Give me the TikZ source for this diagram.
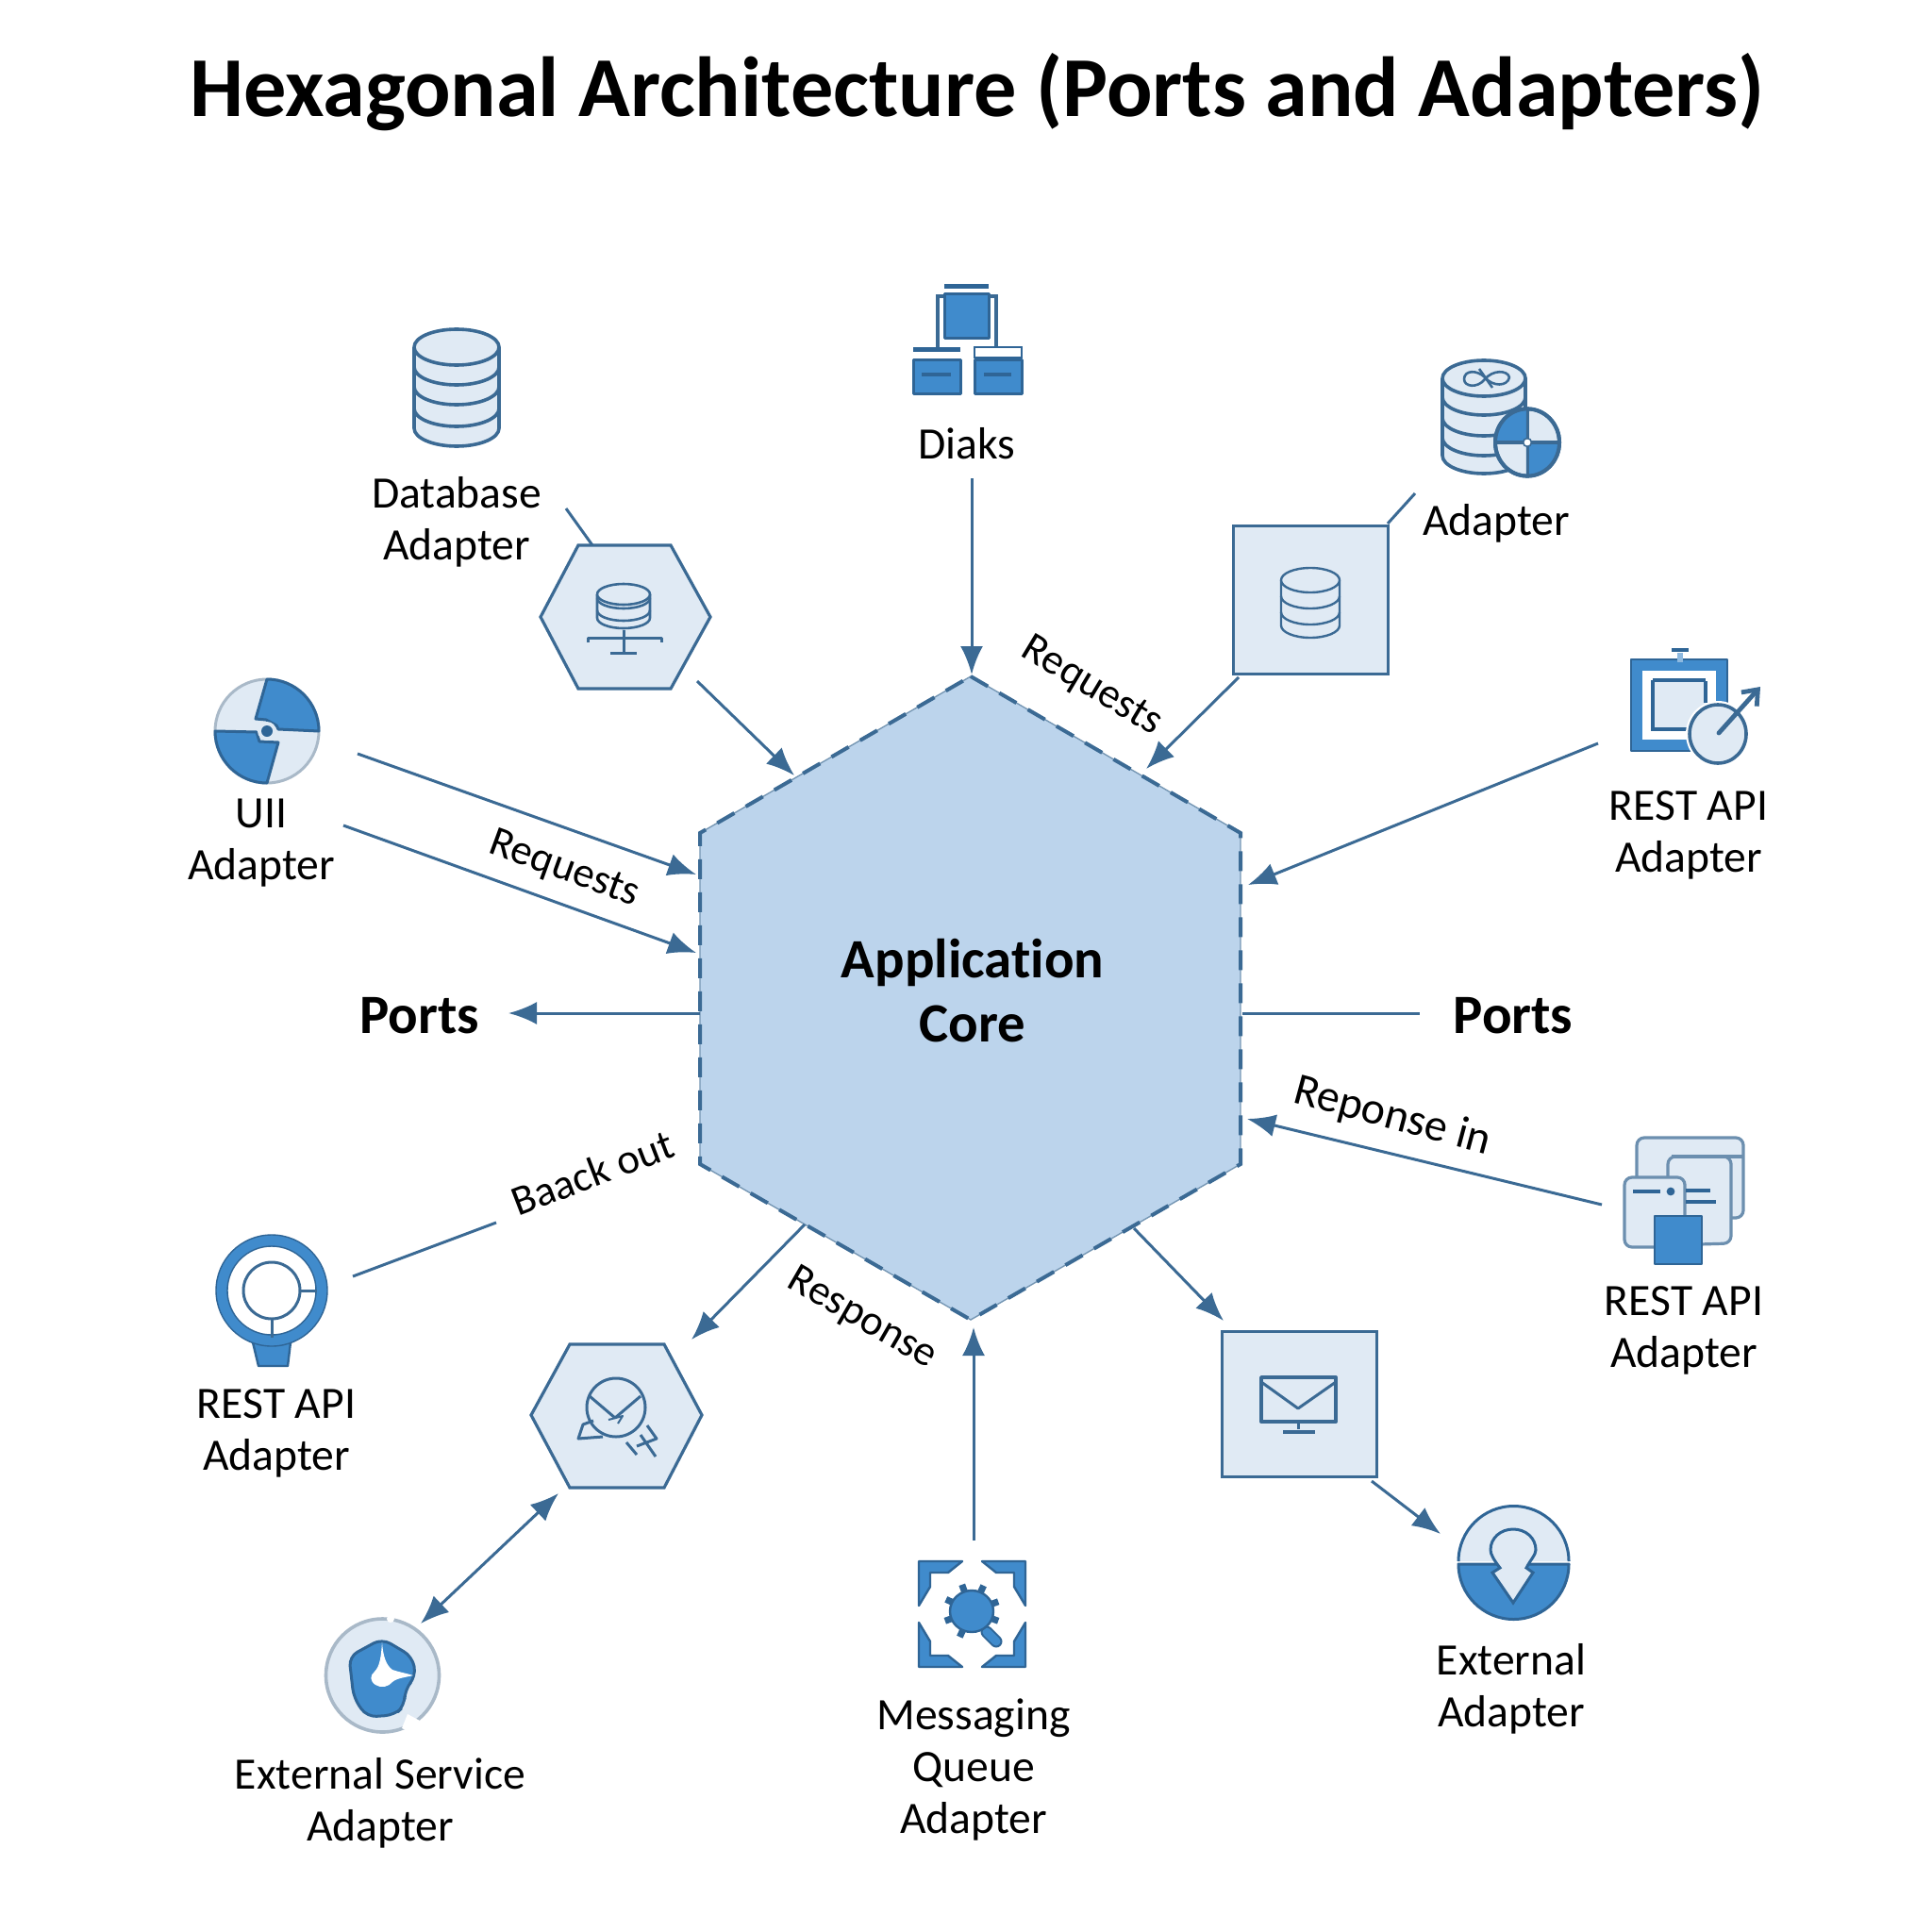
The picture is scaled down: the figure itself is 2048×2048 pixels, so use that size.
\documentclass[tikz,border=0pt]{standalone}
\usepackage{fontspec}
\setmainfont[Ligatures=NoCommon]{Carlito}
\usetikzlibrary{arrows.meta}
\definecolor{linec}{HTML}{3B6A94}
\definecolor{nodefill}{HTML}{E0EAF4}
\definecolor{corefill}{HTML}{BCD4EC}
\definecolor{iconblue}{HTML}{408BCC}
\definecolor{icondark}{HTML}{2F6596}
\definecolor{ringgray}{HTML}{A9B9C8}
\tikzset{
  conn/.style={draw=linec,line width=1.5pt},
  arr/.style={conn,-{Latex[length=15pt,width=12pt]}},
  darr/.style={conn,{Latex[length=15pt,width=12pt]}-{Latex[length=15pt,width=12pt]}},
  lbl/.style={font=\fontsize{23.8}{27.5}\selectfont,align=center,inner sep=0pt},
  edgelbl/.style={font=\fontsize{22.5}{26}\selectfont,inner sep=0pt},
  strong/.style={font=\bfseries\fontsize{29.4}{34}\selectfont,align=center,inner sep=0pt},
  shapebox/.style={draw=linec,fill=nodefill,line width=1.6pt},
  iconline/.style={draw=linec,line width=1.5pt,line join=round},
  iconblue/.style={draw=icondark,fill=iconblue,line width=1.2pt,line join=round},
}
\newcommand{\dbicon}[7][1.5pt]{%
  \draw[iconline,line width=#1,fill=nodefill] ({#2-#4},#3) -- ({#2-#4},#6)
    arc[start angle=180,end angle=360,x radius=#4*0.5pt,y radius=#5*0.5pt]
    -- ({#2+#4},#3);
  \draw[iconline,line width=#1,fill=nodefill] (#2,#3) ellipse[x radius=#4*0.5pt,y radius=#5*0.5pt];
  \foreach \yy in {#7}{\draw[iconline,line width=#1] ({#2-#4},\yy)
    arc[start angle=180,end angle=360,x radius=#4*0.5pt,y radius=#5*0.5pt];}
}
\begin{document}
\begin{tikzpicture}[x=0.5pt,y=-0.5pt]
\useasboundingbox[fill=white] (0,0) rectangle (2048,2048);

% title
\node[font=\bfseries\fontsize{45.2}{50}\selectfont,inner sep=0pt] (title) at (1036,98) {Hexagonal Architecture (Ports and Adapters)};

% core hexagon
\fill[corefill] (1029,717) -- (1315,883) -- (1315,1234) -- (1029,1399) -- (742,1234) -- (742,883) -- cycle;
\draw[draw=linec!70,line width=.7pt] (1029,717) -- (1315,883) -- (1315,1234) -- (1029,1399) -- (742,1234) -- (742,883) -- cycle;
\draw[draw=linec,line width=2pt,dash pattern=on 10.5pt off 7pt] (1029,717) -- (1315,883) -- (1315,1234) -- (1029,1399) -- (742,1234) -- (742,883) -- cycle;
\node[strong] (core) at (1031,1050) {Application\\Core};

% ---- adapter shapes
\draw[shapebox] (613,578) -- (711,578) -- (753,654) -- (711,730) -- (613,730) -- (573,654) -- cycle;
\coordinate (hexdb) at (663,654);
\dbicon[1.3pt]{661}{630}{28}{11}{655}{634,647}
\draw[iconline] (661,668) -- (661,692) (647,692) -- (675,692);
\draw[iconline] (623,681) -- (623,676) -- (701,676) -- (701,681);

\node[shapebox,minimum width=82pt,minimum height=78.5pt,inner sep=0pt,anchor=north west] (sqdb) at (1306,556) {};
\dbicon[1.2pt]{1389}{615}{31}{13}{663}{632,649}

\draw[shapebox] (604,1425) -- (704,1425) -- (744,1500) -- (704,1577) -- (604,1577) -- (563,1500) -- cycle;
\coordinate (hexmsg) at (654,1500);
\draw[iconline] (653,1492) circle[radius=15.5pt];
\draw[iconline] (625,1480) -- (652,1503) -- (679,1480);
\draw[iconline] (629,1506) -- (618,1510) -- (613,1525) -- (639,1523);
\draw[iconline] (664,1529) -- (675,1542) (679,1521) -- (695,1544) (675,1533) -- (696,1525) -- (686,1511);
\draw[iconline,line width=1pt] (645,1505) -- (660,1501) -- (655,1509);

\node[shapebox,minimum width=82pt,minimum height=77pt,inner sep=0pt,anchor=north west] (sqmail) at (1294,1410) {};
\draw[iconline,line width=1.9pt] (1337,1460) rectangle (1416,1507);
\draw[iconline] (1337,1465) -- (1376,1493) -- (1416,1465);
\draw[iconline] (1376,1508) -- (1376,1515);
\draw[iconline,line width=2.4pt] (1360,1518) -- (1394,1518);

% ---- icons
% database
\dbicon[1.8pt]{484}{368}{45}{19}{454}{389,410,433}
\node[lbl] (dblbl) at (484,553) {Database\\Adapter};

% diaks
\coordinate (diaksicon) at (1025,360);
\fill[icondark] (1001,301) rectangle (1048,306);
\draw[iconblue,line width=1.5pt] (1001,312) rectangle (1048,359);
\draw[linec,line width=1.8pt] (1000,314) -- (994,314) -- (994,368) (1049,314) -- (1056,314) -- (1056,368);
\fill[icondark] (968,368) rectangle (1018,373);
\draw[iconblue,line width=1.5pt] (968,382) rectangle (1018,418);
\draw[icondark,line width=2pt] (977,397) -- (1008,397);
\draw[draw=icondark,fill=white,line width=1.2pt] (1033,368) rectangle (1083,379);
\draw[iconblue,line width=1.5pt] (1033,382) rectangle (1083,418);
\draw[icondark,line width=2pt] (1043,397) -- (1072,397);
\node[lbl] (diaks) at (1025,470) {Diaks};

% adapter db + shield
\dbicon[1.8pt]{1573}{401}{44}{19}{483}{421,443,464}
\draw[iconline,line width=1.3pt] (1552,402) .. controls (1552,392) and (1566,392) .. (1574,400) .. controls (1582,410) and (1598,410) .. (1600,400) .. controls (1598,392) and (1582,392) .. (1574,402) .. controls (1566,412) and (1552,410) .. (1552,402);
\draw[iconline,line width=1.3pt] (1568,391) -- (1582,411);
\draw[iconline,fill=nodefill,line width=2pt] (1619,469) ellipse[x radius=17pt,y radius=17.8pt];
\fill[iconblue] (1619,469) -- (1585,469) arc[start angle=180,end angle=90,x radius=17pt,y radius=17.8pt] -- cycle;
\fill[iconblue] (1619,469) -- (1653,469) arc[start angle=0,end angle=-90,x radius=17pt,y radius=17.8pt] -- cycle;
\draw[iconline,line width=1.5pt] (1619,433) -- (1619,505) (1585,469) -- (1653,469);
\draw[iconline,line width=2pt] (1619,469) ellipse[x radius=17pt,y radius=17.8pt];
\draw[draw=linec,fill=white,line width=.8pt] (1619,469) circle[radius=2.2pt];
\node[lbl] (adlbl) at (1586,555) {Adapter};

% REST API top right
\draw[iconblue] (1729,699) rectangle (1831,796);
\fill[white] (1741,711) rectangle (1819,784);
\fill[nodefill] (1753,722) rectangle (1808,772);
\draw[icondark,line width=2pt] (1752,721) -- (1808,721) (1752,721) -- (1752,773) -- (1808,773) (1808,722) -- (1808,745);
\fill[iconblue!60] (1778,692) rectangle (1784,702);
\draw[icondark,line width=2.4pt] (1772,689) -- (1790,689);
\draw[draw=white,fill=white,line width=2pt] (1821,778) ellipse[x radius=16pt,y radius=16.5pt];
\draw[iconline,fill=nodefill,line width=1.8pt] (1821,778) ellipse[x radius=15pt,y radius=15.5pt];
\draw[draw=linec,line width=2.4pt,line cap=round,-{Straight Barb[length=7pt,width=11pt]}] (1822,777) -- (1866,728);
\node[lbl] (restlbl1) at (1790,885) {REST API\\Adapter};

% UI icon
\draw[draw=ringgray,fill=nodefill,line width=1.5pt] (283,775) circle[radius=27.5pt];
\draw[iconblue,line width=1.5pt] (283,720) arc[start angle=90,end angle=0,radius=27.5pt] -- (295,773) -- (293,769) -- (282,763) -- (271,762) -- cycle;
\draw[iconblue,line width=1.5pt] (228,775) arc[start angle=180,end angle=270,radius=27.5pt] -- (295,787) -- (275,786) -- (272,776) -- cycle;
\fill[nodefill] (283,775) circle[radius=5pt];
\fill[icondark] (283,775) circle[radius=3pt];
\node[lbl] (uilbl) at (277,894) {UII\\Adapter};

% REST API lower right
\draw[draw=linec!75,fill=nodefill,line width=1.6pt,rounded corners=4pt] (1735,1206) rectangle (1848,1291);
\draw[draw=linec!75,fill=nodefill,line width=1.6pt,rounded corners=4pt] (1768,1320) -- (1768,1226) -- (1835,1226) -- (1835,1318) -- cycle;
\draw[draw=linec!75,line width=1.6pt] (1772,1226) -- (1848,1226);
\draw[draw=linec!75,fill=nodefill,line width=1.6pt,rounded corners=4pt] (1722,1248) rectangle (1786,1322);
\draw[icondark,line width=2pt] (1731,1263) -- (1760,1263) (1787,1262) -- (1813,1262) (1787,1274) -- (1819,1274);
\fill[icondark] (1771,1263) circle[radius=2.2pt];
\draw[iconblue] (1754,1289) rectangle (1804,1340);
\node[lbl] (restlbl2) at (1785,1410) {REST API\\Adapter};

% external adapter icon
\draw[draw=icondark,fill=nodefill,line width=1.5pt] (1546,1655) arc[start angle=180,end angle=0,radius=29.25pt];
\draw[iconblue,line width=1.5pt] (1546,1658) arc[start angle=180,end angle=360,radius=29.25pt] -- cycle;
\draw[draw=icondark,fill=nodefill,line width=1.5pt,line join=miter] (1590,1662) .. controls (1584,1654) and (1580,1648) .. (1580,1643) .. controls (1580,1630) and (1591,1621) .. (1604,1621) .. controls (1617,1621) and (1628,1630) .. (1628,1643) .. controls (1628,1648) and (1622,1654) .. (1618,1662) -- (1625,1667) -- (1604,1699) -- (1582,1667) -- cycle;
\node[lbl] (extlbl) at (1602,1790) {External\\Adapter};

% messaging icon
\foreach \sx/\sy in {1/1,-1/1,1/-1,-1/-1}{
  \begin{scope}[shift={(1030.5,1711)},xscale=\sx,yscale=\sy]
    \fill[iconblue] (-56.5,-56) -- (-10.5,-56) -- (-25.5,-44) -- (-44.5,-44) -- (-44.5,-29) -- (-56.5,-9) -- cycle;
  \end{scope}
}
\foreach \ang in {20,65,110,155,200,245,340}{
  \draw[icondark,line width=3.5pt] (1030,1708) -- ++(\ang:15pt);
}
\draw[draw=icondark,line width=6.5pt,line cap=round] (1046,1730) -- (1056,1740);
\draw[draw=iconblue,line width=4.5pt,line cap=round] (1046,1730) -- (1056,1740);
\draw[iconblue] (1030,1708) ellipse[x radius=11.5pt,y radius=11pt];
\node[lbl] (msglbl) at (1032,1876) {Messaging\\Queue\\Adapter};

% external service icon
\draw[draw=ringgray,fill=nodefill,line width=1.8pt] (405.5,1776) circle[radius=30pt];
\draw[iconblue,rounded corners=5pt,line width=1.5pt] (405,1737) -- (437,1756) -- (441,1777) -- (429,1791) -- (429,1808) -- (418,1818) -- (389,1820) -- (375,1800) -- (370,1756) -- cycle;
\fill[white] (405,1741) .. controls (406,1755) and (409,1765) .. (416,1770) .. controls (425,1773) and (432,1774) .. (438,1776) .. controls (430,1778) and (420,1779) .. (416,1783) .. controls (412,1788) and (404,1790) .. (398,1786) .. controls (392,1782) and (392,1776) .. (397,1772) .. controls (403,1766) and (404,1755) .. (405,1741);
\fill[white] (414,1716) circle[radius=2pt];
\fill[white] (432,1817) -- (445,1824) -- (435,1836) -- (426,1832) -- cycle;
\node[lbl] (svclbl) at (403,1911) {External Service\\Adapter};

% REST API left icon
\draw[iconblue] (268,1423) -- (274,1448) -- (305,1448) -- (308,1423) -- cycle;
\draw[draw=iconblue,line width=6pt] (288,1368) circle[radius=26.5pt];
\draw[draw=icondark,line width=.7pt] (288,1368) circle[radius=29.5pt];
\fill[white] (288,1368) circle[radius=23.5pt];
\draw[draw=icondark,line width=.7pt] (288,1368) circle[radius=23.5pt];
\draw[iconline] (288,1368) circle[radius=15pt];
\draw[iconline] (318,1368) -- (336,1368) (288.5,1398) -- (288.5,1418);
\node[lbl] (restlbl3) at (293,1519) {REST API\\Adapter};

% ---- named connector ends
\coordinate (a1s) at (600,539); \coordinate (a1e) at (628,578);
\coordinate (a2s) at (739,722); \coordinate (a2e) at (842,822);
\coordinate (a3s) at (1030,507); \coordinate (a3e) at (1030,715);
\coordinate (a4s) at (1471,555); \coordinate (a4e) at (1500,523);
\coordinate (a5s) at (1313,718); \coordinate (a5e) at (1215,815);
\coordinate (a6s) at (1694,788); \coordinate (a6e) at (1323,938);
\coordinate (a7s) at (379,799); \coordinate (a7e) at (738,927);
\coordinate (a8s) at (364,875); \coordinate (a8e) at (738,1010);
\coordinate (a9s) at (742,1074); \coordinate (a9e) at (539,1074);
\coordinate (a10s) at (1317,1074); \coordinate (a10e) at (1505,1074);
\coordinate (a11s) at (1698,1277); \coordinate (a11e) at (1322,1186);
\coordinate (a12s) at (1202,1302); \coordinate (a12e) at (1297,1400);
\coordinate (a13s) at (1454,1570); \coordinate (a13e) at (1527,1626);
\coordinate (a14s) at (1032,1633); \coordinate (a14e) at (1032,1407);
\coordinate (a15s) at (853,1298); \coordinate (a15e) at (733,1420);
\coordinate (a16s) at (446,1721); \coordinate (a16e) at (592,1583);
\coordinate (a17s) at (526,1296); \coordinate (a17e) at (374,1353);

\draw[conn] (a1s) -- (a1e);
\draw[arr] (a2s) -- (a2e);
\draw[arr] (a3s) -- (a3e);
\draw[conn] (a4s) -- (a4e);
\draw[arr] (a5s) -- (a5e);
\draw[arr] (a6s) -- (a6e);
\draw[arr] (a7s) -- (a7e);
\draw[arr] (a8s) -- (a8e);
\draw[arr] (a9s) -- (a9e);
\draw[conn] (a10s) -- (a10e);
\draw[arr] (a11s) -- (a11e);
\draw[arr] (a12s) -- (a12e);
\draw[arr] (a13s) -- (a13e);
\draw[arr] (a14s) -- (a14e);
\draw[arr] (a15s) -- (a15e);
\draw[darr] (a16s) -- (a16e);
\draw[conn] (a17s) -- (a17e);

% ---- edge labels
\node[edgelbl,rotate=-31] (req1) at (1157,728) {Requests};
\node[edgelbl,rotate=-20] (req2) at (598,922) {Requests};
\node[edgelbl,rotate=-15,font=\fontsize{24}{26}\selectfont] (resp1) at (1476,1184) {Reponse in};
\node[edgelbl,rotate=21] (back) at (628,1243) {Baack out};
\node[edgelbl,rotate=-30] (resp2) at (914,1398) {Response};
\node[strong] (portl) at (445,1077) {Ports};
\node[strong] (portr) at (1604,1077) {Ports};
\end{tikzpicture}
\end{document}
